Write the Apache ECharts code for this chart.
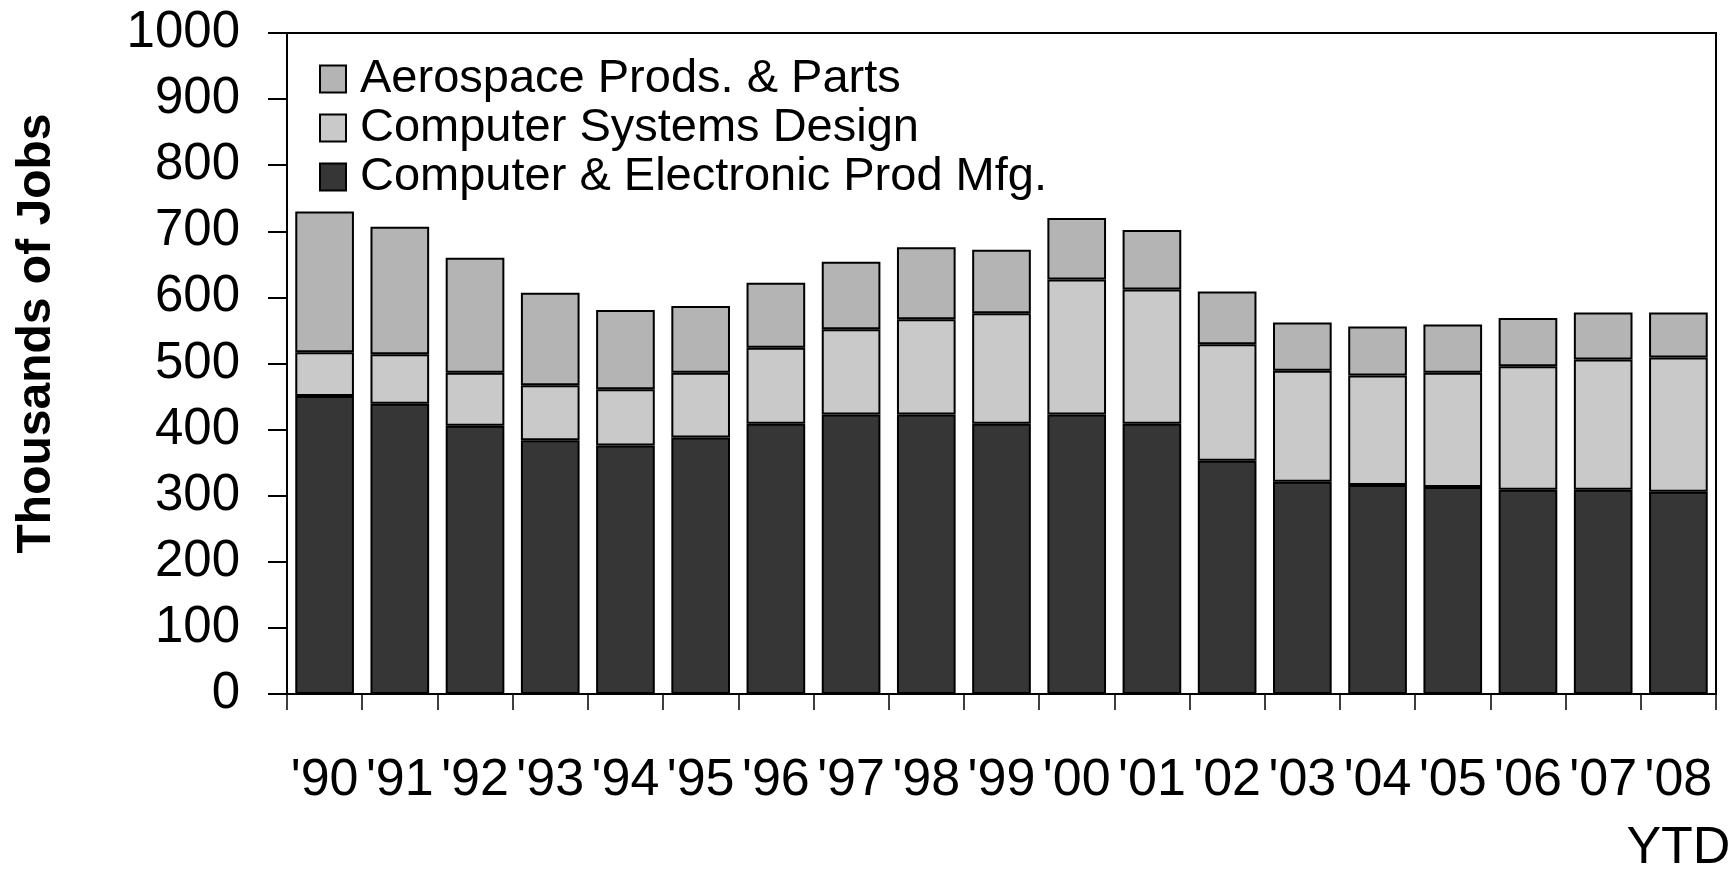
<!DOCTYPE html>
<html><head><meta charset="utf-8">
<script src="https://cdn.jsdelivr.net/npm/echarts@6/dist/echarts.min.js"></script>
<style>html,body{margin:0;padding:0;background:#fff}#c{width:1729px;height:872px}</style>
</head><body><div id="c"></div>
<script>
const categories = ["'90","'91","'92","'93","'94","'95","'96","'97","'98","'99","'00","'01","'02","'03","'04","'05","'06","'07","'08\nYTD"];
const compElec = [451,439,406,384,376,388,409,423,423,409,423,409,353,321,316,313,309,309,306];
const compSys  = [66,75,80,83,85,98,115,129,144,167,204,203,176,168,166,173,187,197,203];
const aero     = [213,193,174,140,120,101,98,102,109,96,93,90,80,73,74,73,73,71,68];
const yTicks = [0,100,200,300,400,500,600,700,800,900,1000];

const FONT = '"Liberation Sans", Arial, sans-serif';
const chart = echarts.init(document.getElementById('c'), null, {renderer:'canvas'});
const barStyle = c => ({color:c, borderColor:'#000', borderWidth:2});
chart.setOption({
  animation:false,
  textStyle:{fontFamily:FONT},
  grid:{left:287, right:13, top:33, bottom:178, show:true, borderColor:'#000', borderWidth:2, backgroundColor:'transparent', containLabel:false, outerBoundsMode:'none'},
  legend:{
    orient:'vertical', left:314, top:50, itemWidth:26, itemHeight:27, itemGap:1,
    icon:'rect',
    data:['Aerospace Prods. & Parts','Computer Systems Design','Computer & Electronic Prod Mfg.'],
    textStyle:{fontFamily:FONT, fontSize:47, color:'#000', lineHeight:48, padding:[0,0,0,9]}
  },
  xAxis:{
    type:'category', data:categories,
    axisLine:{lineStyle:{color:'#000', width:2}},
    axisTick:{show:true, length:16, lineStyle:{color:'#000', width:1.5}},
    axisLabel:{color:'#000', fontSize:52, fontFamily:FONT, margin:53, lineHeight:68, interval:0}
  },
  yAxis:{
    type:'value', min:0, max:1000, interval:100,
    axisLine:{show:true, lineStyle:{color:'#000', width:2}},
    axisTick:{show:true, length:19, lineStyle:{color:'#000', width:2}},
    splitLine:{show:false},
    axisLabel:{color:'#000', fontSize:51, fontFamily:FONT, margin:47,
      formatter:v => yTicks.includes(v) ? String(v) : ''},
    name:'Thousands of Jobs', nameLocation:'middle', nameGap:226, nameRotate:90,
    nameTextStyle:{fontSize:48, fontWeight:'bold', color:'#000', fontFamily:FONT, padding:[0,0,0,60]}
  },
  series:[
    {name:'Computer & Electronic Prod Mfg.', type:'bar', stack:'s', data:compElec, barCategoryGap:'22%', itemStyle:barStyle('#363636')},
    {name:'Computer Systems Design', type:'bar', stack:'s', data:compSys, itemStyle:barStyle('#c9c9c9')},
    {name:'Aerospace Prods. & Parts', type:'bar', stack:'s', data:aero, itemStyle:barStyle('#b4b4b4')}
  ]
});
</script></body></html>
